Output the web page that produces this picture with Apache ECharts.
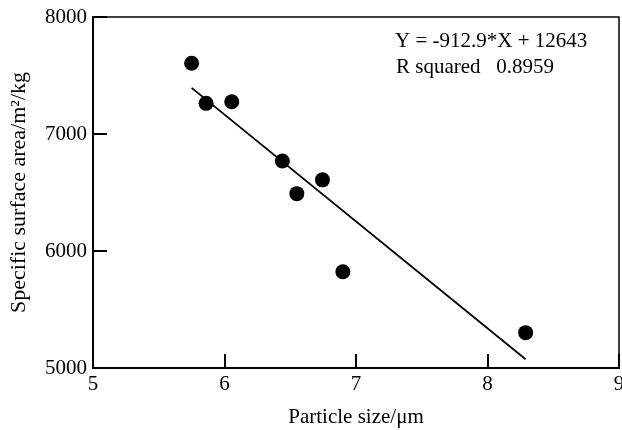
<!DOCTYPE html>
<html><head><meta charset="utf-8">
<script src="https://cdn.jsdelivr.net/npm/echarts@6/dist/echarts.min.js"></script>
<style>html,body{margin:0;padding:0;background:#fff}#c{width:622px;height:430px}</style>
</head><body><div id="c"></div>
<script>
const particleSize = [5.75, 5.86, 6.055, 6.44, 6.55, 6.745, 6.90, 8.29];
const surfaceArea = [7605, 7262, 7276, 6769, 6490, 6608, 5823, 5302];
const slope = -912.9;
const intercept = 12643;
const rSquared = '0.8959';
const xTicks = [5, 6, 7, 8, 9];
const yTicks = [5000, 6000, 7000, 8000];

const pts = particleSize.map((x, i) => [x, surfaceArea[i]]);
const xMinD = Math.min(...particleSize), xMaxD = Math.max(...particleSize);
const fit = [[xMinD, slope * xMinD + intercept], [xMaxD, slope * xMaxD + intercept]];
const font = '"Liberation Serif", "Times New Roman", serif';

const chart = echarts.init(document.getElementById('c'));
chart.setOption({
  animation: false,
  backgroundColor: '#fff',
  grid: {left: 93, right: 3, top: 17, bottom: 62, show: true, borderColor: '#000', borderWidth: 1.5,
         containLabel: false, outerBoundsMode: 'none'},
  xAxis: {
    type: 'value', min: xTicks[0], max: xTicks[xTicks.length - 1], interval: 1,
    name: 'Particle size/\u03bcm', nameLocation: 'middle', nameGap: 39,
    nameTextStyle: {fontFamily: font, fontSize: 21, color: '#000'},
    axisLine: {lineStyle: {color: '#000', width: 2}},
    axisTick: {inside: true, length: 14, lineStyle: {color: '#000', width: 2}},
    axisLabel: {fontFamily: font, fontSize: 21, color: '#000', margin: 6, formatter: v => String(v)},
    splitLine: {show: false}
  },
  yAxis: {
    type: 'value', min: yTicks[0], max: yTicks[yTicks.length - 1], interval: 1000,
    name: 'Specific surface area/m\u00b2/kg', nameLocation: 'middle', nameGap: 63,
    nameTextStyle: {fontFamily: font, fontSize: 22, color: '#000'},
    axisLine: {lineStyle: {color: '#000', width: 2}},
    axisTick: {inside: true, length: 14, lineStyle: {color: '#000', width: 2}},
    axisLabel: {fontFamily: font, fontSize: 21, color: '#000', margin: 6, formatter: v => String(v)},
    splitLine: {show: false}
  },
  series: [
    {type: 'line', data: fit, symbol: 'none', lineStyle: {color: '#000', width: 1.8}, z: 2},
    {type: 'scatter', data: pts, symbol: 'circle', symbolSize: 15, itemStyle: {color: '#000', opacity: 1}, z: 3}
  ],
  graphic: [
    {type: 'text', left: 395, top: 31, style: {text: 'Y = ' + slope + '*X + ' + intercept, font: '21px ' + font, fill: '#000'}},
    {type: 'text', left: 396, top: 57, style: {text: 'R squared   ' + rSquared, font: '21px ' + font, fill: '#000'}}
  ]
});
</script></body></html>
